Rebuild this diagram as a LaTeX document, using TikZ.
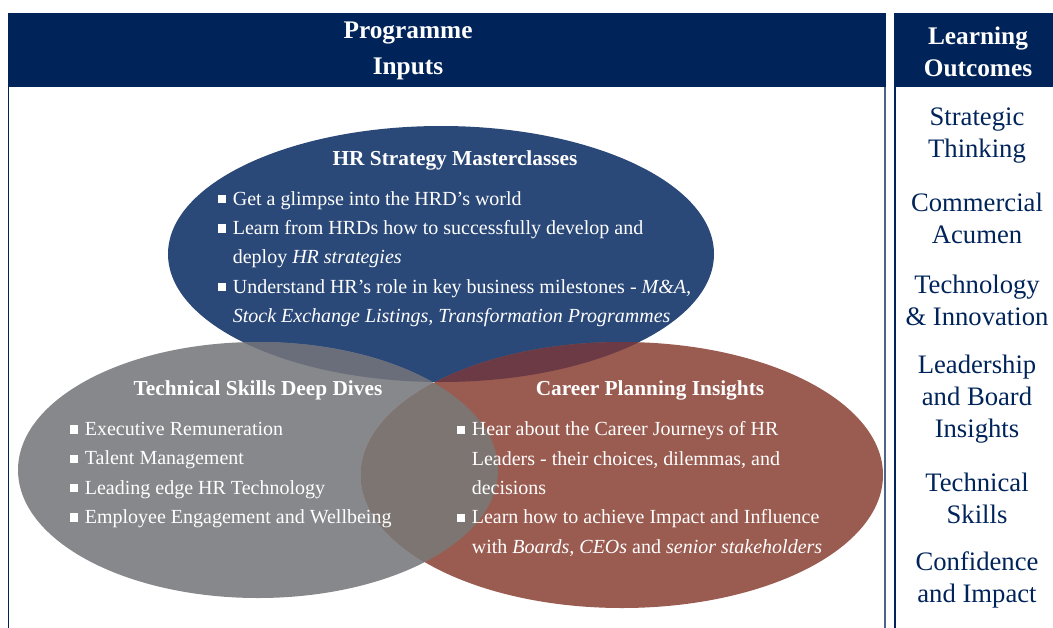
\documentclass[tikz,border=0pt]{standalone}
\usepackage{fontspec}
\setmainfont{Liberation Serif}

\definecolor{navyhdr}{RGB}{0,36,90}
\definecolor{blueell}{RGB}{43,73,120}
\definecolor{grayell}{RGB}{135,136,140}
\definecolor{redell}{RGB}{154,91,80}
\definecolor{bluegray}{RGB}{106,110,122}
\definecolor{bluered}{RGB}{107,58,68}
\definecolor{grayred}{RGB}{124,117,113}
\definecolor{allthree}{RGB}{98,84,92}

\newcommand{\sqb}{\makebox[11.5pt][l]{\raisebox{1.3pt}{\rule{6.3pt}{6.3pt}}}}
\newcommand{\sqn}{\hspace*{11.5pt}}

\tikzset{every picture/.style={line width=0.75pt}}
\tikzset{
  hdrtext/.style={text=white,font=\fontsize{19}{27}\selectfont\bfseries,align=center,inner sep=0.75pt},
  elltitle/.style={text=white,font=\fontsize{16}{20}\selectfont\bfseries,inner sep=0.75pt},
  bullets/.style={text=white,font=\fontsize{15}{22}\selectfont,align=left,anchor=west,inner sep=0pt},
  outcome/.style={text=navyhdr,font=\fontsize{20}{24}\selectfont,align=center,inner sep=0.75pt}
}

\begin{document}
\begin{tikzpicture}[x=0.75pt,y=0.75pt,yscale=-1,xscale=1]
\useasboundingbox (0,0) rectangle (1053,628);

%Shape: Rectangle [id:hdr_inputs]
\fill[navyhdr] (8,13) rectangle (886,87) ;
%Shape: Rectangle [id:hdr_outcomes]
\fill[navyhdr] (894,13) rectangle (1053,87) ;
%Straight Lines [id:panel_lines]
\draw[navyhdr,line width=1pt] (8.5,87) -- (8.5,628) ;
\draw[navyhdr!70,line width=1pt] (885,87) -- (885,628) ;
\draw[navyhdr,line width=1pt] (895,87) -- (895,628) ;

%Shape: Ellipse [id:ell_hr]
\fill[blueell] (441,254) ellipse (273 and 128) ;
%Shape: Ellipse [id:ell_tech]
\fill[grayell] (258,470) ellipse (240 and 128) ;
%Shape: Ellipse [id:ell_career]
\fill[redell] (622,475) ellipse (261 and 133) ;

% overlaps
\begin{scope}
\clip (441,254) ellipse (273 and 128) ;
\fill[bluegray] (258,470) ellipse (240 and 128) ;
\fill[bluered] (622,475) ellipse (261 and 133) ;
\clip (258,470) ellipse (240 and 128) ;
\fill[allthree] (622,475) ellipse (261 and 133) ;
\end{scope}
\begin{scope}
\clip (258,470) ellipse (240 and 128) ;
\clip (622,475) ellipse (261 and 133) ;
\fill[grayred] (0,382) rectangle (1053,628) ;
\end{scope}

% Text Node
\draw (408,51) node (inputs) [hdrtext] {Programme\\Inputs};
% Text Node
\draw (978,52) node (outcomes) [hdrtext,font=\fontsize{19}{23.5}\selectfont\bfseries] {Learning\\Outcomes};

% Text Node
\draw (455,160) node (hrtitle) [elltitle] {HR Strategy Masterclasses};
% Text Node
\draw (217,259) node (hrlist) [bullets] {\sqb Get a glimpse into the HRD’s world\\
\sqb Learn from HRDs how to successfully develop and\\
\sqn deploy \textit{HR strategies}\\
\sqb Understand HR’s role in key business milestones - \textit{M\&A,}\\
\sqn \textit{Stock Exchange Listings, Transformation Programmes}};

% Text Node
\draw (258,390) node (techtitle) [elltitle] {Technical Skills Deep Dives};
% Text Node
\draw (69,475) node (techlist) [bullets] {\sqb Executive Remuneration\\
\sqb Talent Management\\
\sqb Leading edge HR Technology\\
\sqb Employee Engagement and Wellbeing};

% Text Node
\draw (650,390) node (careertitle) [elltitle] {Career Planning Insights};
% Text Node
\draw (456,489) node (careerlist) [bullets] {\sqb Hear about the Career Journeys of HR\\
\sqn Leaders - their choices, dilemmas, and\\
\sqn decisions\\
\sqb Learn how to achieve Impact and Influence\\
\sqn with \textit{Boards, CEOs} and \textit{senior stakeholders}};

% Text Node
\draw (977,135.5) node (strat) [outcome] {Strategic\\Thinking};
% Text Node
\draw (977,218) node (comm) [outcome] {Commercial\\Acumen};
% Text Node
\draw (977,300) node (techinno) [outcome] {Technology\\\& Innovation};
% Text Node
\draw (977,399.5) node (lead) [outcome] {Leadership\\and Board\\Insights};
% Text Node
\draw (977,498) node (techsk) [outcome] {Technical\\Skills};
% Text Node
\draw (977,580) node (conf) [outcome] {Confidence\\and Impact};

\end{tikzpicture}
\end{document}
